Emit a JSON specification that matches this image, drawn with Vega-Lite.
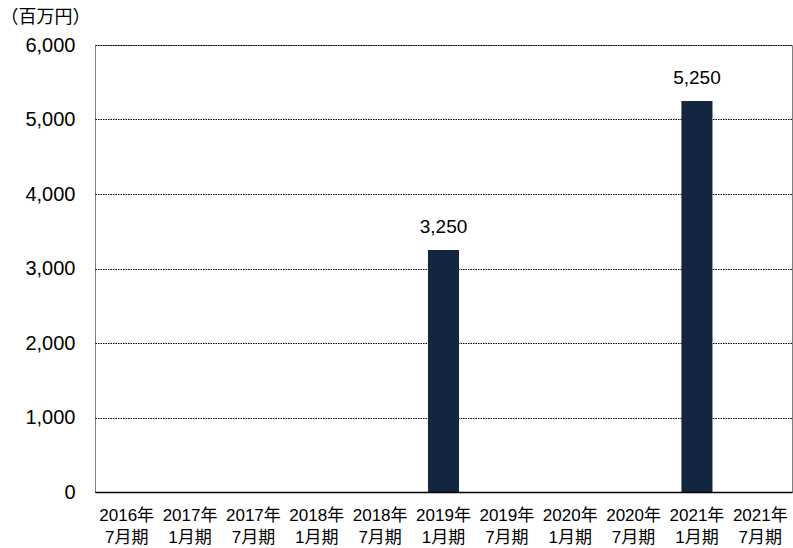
{
  "$schema": "https://vega.github.io/schema/vega-lite/v6.json",
  "autosize": "none",
  "width": 697,
  "height": 447,
  "padding": {"left": 95, "top": 45, "right": 1, "bottom": 56},
  "background": "white",
  "config": {
    "font": "Liberation Sans, Arial, Noto Sans CJK JP",
    "view": {"stroke": "#808080", "strokeWidth": 1}
  },
  "data": {
    "values": [
      {"period": "2016年|7月期", "value": null},
      {"period": "2017年|1月期", "value": null},
      {"period": "2017年|7月期", "value": null},
      {"period": "2018年|1月期", "value": null},
      {"period": "2018年|7月期", "value": null},
      {"period": "2019年|1月期", "value": 3250},
      {"period": "2019年|7月期", "value": null},
      {"period": "2020年|1月期", "value": null},
      {"period": "2020年|7月期", "value": null},
      {"period": "2021年|1月期", "value": 5250},
      {"period": "2021年|7月期", "value": null}
    ]
  },
  "encoding": {
    "x": {
      "field": "period",
      "type": "nominal",
      "sort": null,
      "scale": {
        "domain": ["2016年|7月期", "2017年|1月期", "2017年|7月期", "2018年|1月期", "2018年|7月期", "2019年|1月期", "2019年|7月期", "2020年|1月期", "2020年|7月期", "2021年|1月期", "2021年|7月期"],
        "paddingInner": 0.51,
        "paddingOuter": 0.255
      },
      "axis": {
        "title": null,
        "labelAngle": 0,
        "labelExpr": "split(datum.value, '|')",
        "labelFontSize": 17,
        "labelColor": "#000000",
        "labelLineHeight": 22,
        "labelPadding": 15,
        "labelBaseline": "top",
        "ticks": false,
        "domainColor": "#000000",
        "domainWidth": 1.5,
        "zindex": 2
      }
    },
    "y": {
      "field": "value",
      "type": "quantitative",
      "scale": {"domain": [0, 6000], "nice": false},
      "axis": {
        "title": "（百万円）",
        "titleAngle": 0,
        "titleAlign": "left",
        "titleBaseline": "top",
        "titleX": -95,
        "titleY": -37,
        "titleFontSize": 18,
        "titleFontWeight": "normal",
        "titleColor": "#000000",
        "values": [0, 1000, 2000, 3000, 4000, 5000, 6000],
        "format": ",d",
        "labelFontSize": 20,
        "labelColor": "#000000",
        "labelPadding": 20,
        "ticks": false,
        "domain": false,
        "grid": true,
        "gridColor": "#000000",
        "gridDash": [1.5, 1],
        "gridWidth": 1
      }
    }
  },
  "layer": [
    {
      "mark": {"type": "bar", "color": "#13253f"}
    },
    {
      "mark": {"type": "text", "dy": -23, "fontSize": 19, "color": "#000000"},
      "encoding": {
        "text": {"field": "value", "type": "quantitative", "format": ",d"}
      }
    }
  ]
}
